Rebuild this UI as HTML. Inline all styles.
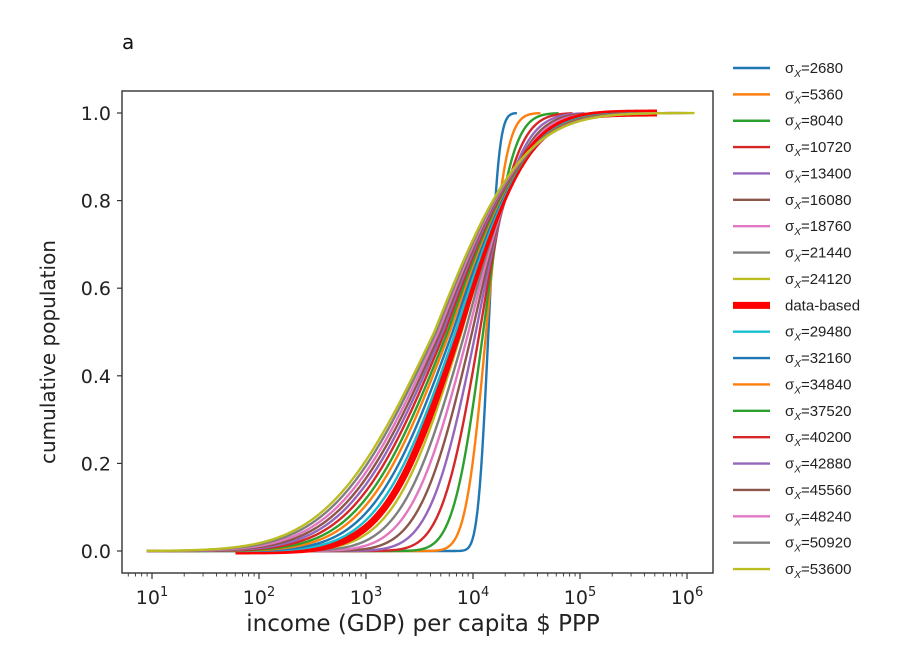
<!DOCTYPE html>
<html><head><meta charset="utf-8">
<style>
body{margin:0;background:#fff;}
svg{display:block;font-family:"DejaVu Sans","Liberation Sans",sans-serif;}
</style></head>
<body>
<svg id="chart" width="898" height="651" viewBox="0 0 898 651">
<text x="122" y="49" font-size="20" fill="#111">a</text>
<g id="plot"></g>
<g id="axes"></g>
<g id="legend"></g>
</svg>
<script>
const seriesLabels = ["2680","5360","8040","10720","13400","16080","18760","21440","24120","data-based","29480","32160","34840","37520","40200","42880","45560","48240","50920","53600"];
const seriesColors = ["#1f77b4","#ff7f0e","#2ca02c","#d62728","#9467bd","#8c564b","#e377c2","#7f7f7f","#bcbd22","#ff0000","#17becf","#1f77b4","#ff7f0e","#2ca02c","#d62728","#9467bd","#8c564b","#e377c2","#7f7f7f","#bcbd22"];
// log10 median income per series
const seriesMedianLog = [4.144,4.123,4.095,4.062,4.026,3.992,3.958,3.926,3.893,3.864,3.836,3.810,3.783,3.762,3.737,3.716,3.696,3.676,3.655,3.638];
// log10 spread below the median
const seriesSpreadLow = [0.077,0.151,0.218,0.280,0.336,0.384,0.427,0.467,0.504,0.537,0.568,0.596,0.624,0.648,0.673,0.697,0.718,0.739,0.761,0.781];
// log10 spread above the median
const seriesSpreadUp = [0.077,0.149,0.214,0.271,0.322,0.365,0.402,0.435,0.465,0.490,0.514,0.534,0.554,0.570,0.587,0.602,0.615,0.627,0.640,0.651];
// log10 income range per series
const seriesStartLog = [0.95,0.95,0.95,0.95,0.95,0.95,0.95,0.95,0.95,1.78,0.95,0.95,0.95,0.95,0.95,0.95,0.95,0.95,0.95,0.95];
const seriesEndLog = [4.41,4.63,4.80,4.93,5.04,5.14,5.23,5.31,5.39,5.72,5.50,5.58,5.64,5.70,5.76,5.82,5.88,5.94,6.00,6.07];
const xTickExps = [1,2,3,4,5,6];
const yTicks = [0.0,0.2,0.4,0.6,0.8,1.0];

const L=122,R=713,T=91,B=573;
const xS = lg => 152 + (lg-1)*107;
const yS = v => 551 - v*(551-113);
const NS="http://www.w3.org/2000/svg";
function mk(tag,attrs,parent){const e=document.createElementNS(NS,tag);for(const k in attrs)e.setAttribute(k,attrs[k]);parent.appendChild(e);return e;}
function erf(x){const s=Math.sign(x);x=Math.abs(x);const t=1/(1+0.3275911*x);const y=1-(((((1.061405429*t-1.453152027)*t)+1.421413741)*t-0.284496736)*t+0.254829592)*t*Math.exp(-x*x);return s*y;}
const cdf=(lg,m,sl,su)=>{const s=lg<m?sl:su;return 0.5*(1+erf((lg-m)/(s*Math.SQRT2)));};

const plot=document.getElementById('plot');
seriesLabels.forEach((lab,i)=>{
  let d="";
  const a=seriesStartLog[i],b=seriesEndLog[i];
  for(let k=0;k<=300;k++){const lg=a+(b-a)*k/300;const v=cdf(lg,seriesMedianLog[i],seriesSpreadLow[i],seriesSpreadUp[i]);d+=(k?"L":"M")+xS(lg).toFixed(2)+","+yS(v).toFixed(2);}
  const p=mk('path',{d:d,fill:"none",stroke:seriesColors[i],"stroke-width":lab==="data-based"?7:2.4,"stroke-linejoin":"round"},plot);
  
  
});

const axes=document.getElementById('axes');
const frame=mk('rect',{x:L,y:T,width:R-L,height:B-T,fill:"none",stroke:"#333","stroke-width":1.4},axes);


yTicks.forEach(v=>{
  const y=yS(v);
  mk('line',{x1:L-5,x2:L,y1:y,y2:y,stroke:"#333","stroke-width":1.2},axes);
  const t=mk('text',{x:L-11,y:y+7,"font-size":19,"text-anchor":"end",fill:"#222"},axes);
  t.textContent=v.toFixed(1);
  
  
});
for(let e=0;e<=6;e++){
  for(let m=1;m<10;m++){
    const lg=e+Math.log10(m);const x=xS(lg);
    if(x<L||x>R)continue;
    mk('line',{x1:x,x2:x,y1:B,y2:B+(m===1?6:3.5),stroke:"#333","stroke-width":m===1?1.2:0.9},axes);
  }
}
xTickExps.forEach(e=>{
  const x=xS(e);
  const t=mk('text',{x:x,y:604,"font-size":19,"text-anchor":"middle",fill:"#222"},axes);
  t.innerHTML='10<tspan dy="-8" font-size="13">'+e+'</tspan>';
  
  
});
const xt=mk('text',{x:423,y:631,"font-size":23,"text-anchor":"middle",fill:"#222"},axes);
xt.textContent="income (GDP) per capita $ PPP";


const yt=mk('text',{x:0,y:0,"font-size":20,"text-anchor":"middle",fill:"#222",transform:"translate(55,352) rotate(-90)"},axes);
yt.textContent="cumulative population";



const leg=document.getElementById('legend');
seriesLabels.forEach((lab,i)=>{
  const y=68+i*26.37;
  const g=mk('g',{},leg);
  
  
  mk('line',{x1:733,x2:770,y1:y,y2:y,stroke:seriesColors[i],"stroke-width":lab==="data-based"?7:2.4},g);
  const t=mk('text',{x:785,y:y+5,"font-size":15,fill:"#222","font-family":"Liberation Sans, sans-serif"},g);
  if(lab==="data-based") t.textContent="data-based";
  else t.innerHTML='σ<tspan dy="4" font-size="10" font-style="italic">X</tspan><tspan dy="-4">='+lab+'</tspan>';
});
</script>
</body></html>
